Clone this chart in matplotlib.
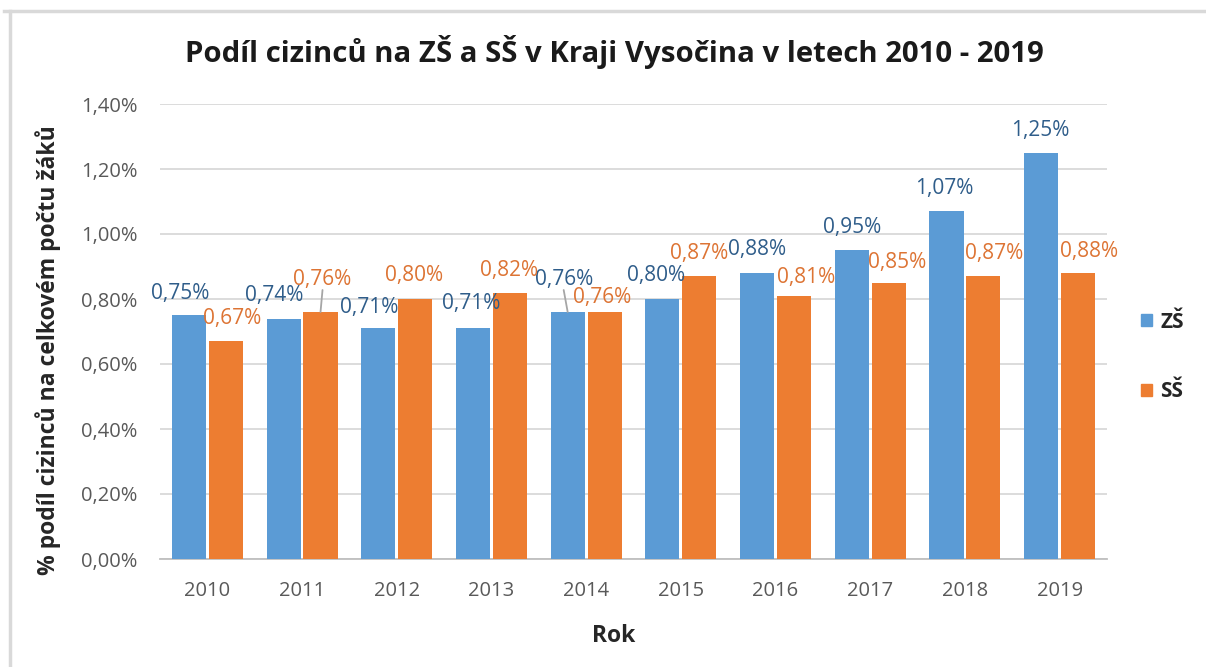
import numpy as np
import matplotlib.pyplot as plt
from matplotlib.lines import Line2D
from matplotlib.patches import Patch

# --- data -------------------------------------------------------------------
years = ['2010', '2011', '2012', '2013', '2014', '2015', '2016', '2017', '2018', '2019']
zs = [0.75, 0.74, 0.71, 0.71, 0.76, 0.80, 0.88, 0.95, 1.07, 1.25]
ss = [0.67, 0.76, 0.80, 0.82, 0.76, 0.87, 0.81, 0.85, 0.87, 0.88]
yticks = [0.0, 0.2, 0.4, 0.6, 0.8, 1.0, 1.2, 1.4]

# hand-placed data label offsets (pixels from bar top centre), like in Excel
zs_off = [(-9, 22), (-9, 23), (-9, 21), (-2, 25), (-4, 32),
          (-6, 24), (0, 23), (0, 23), (-2, 23), (-1, 22)]
ss_off = [(6, 23), (2, 32), (-1, 24), (-1, 22), (-2, 14),
          (0, 23), (12, 18), (8, 20), (11, 23), (11, 22)]
zs_leader = [4]
ss_leader = [1]

BLUE = '#5B9BD5'
ORANGE = '#ED7D31'
BLUE_TXT = '#2F5D8A'
ORANGE_TXT = '#DD7434'
GRID = '#D9D9D9'
TICK = '#595959'

plt.rcParams['font.family'] = ['Open Sans', 'DejaVu Sans']


def pct(v):
    return f"{v:.2f}".replace('.', ',') + '%'


fig = plt.figure(figsize=(12.06, 6.67), dpi=100)
ax = fig.add_axes([160 / 1206, 108 / 667, 947 / 1206, 455 / 667])

x = np.arange(len(years))
w = 0.36
off = 0.195
ax.bar(x - off, zs, w, color=BLUE, zorder=3)
ax.bar(x + off, ss, w, color=ORANGE, zorder=3)

ax.set_xlim(-0.5, len(years) - 0.5)
ax.set_ylim(0, 1.4)
ax.set_yticks(yticks)
ax.set_yticklabels([pct(v) for v in yticks])
ax.set_xticks(x)
ax.set_xticklabels(years)
ax.tick_params(axis='both', length=0, labelsize=14.5, colors=TICK)
ax.tick_params(axis='y', pad=16)
ax.tick_params(axis='x', pad=16)

ax.grid(axis='y', color=GRID, linewidth=1.3, zorder=0)
for s in ['top', 'right', 'left']:
    ax.spines[s].set_visible(False)
ax.spines['bottom'].set_color('#BFBFBF')
ax.spines['bottom'].set_linewidth(1.3)


def labels(vals, offs, leaders, sign, color):
    for i, v in enumerate(vals):
        dx, dy = offs[i]
        bx = x[i] + sign * off
        ax.annotate(pct(v), xy=(bx, v), xytext=(dx, dy), textcoords='offset pixels',
                    ha='center', va='center', fontsize=15, color=color, zorder=5)
        if i in leaders:
            ax.annotate('', xy=(bx, v), xytext=(dx, dy - 10), textcoords='offset pixels',
                        arrowprops=dict(arrowstyle='-', color='#A6A6A6', lw=1.3,
                                        shrinkA=0, shrinkB=0))


labels(zs, zs_off, zs_leader, -1, BLUE_TXT)
labels(ss, ss_off, ss_leader, 1, ORANGE_TXT)

fig.text(614 / 1206, 1 - 52 / 667, 'Podíl cizinců na ZŠ a SŠ v Kraji Vysočina v letech 2010 - 2019',
         ha='center', va='center', fontsize=21.2, fontweight='bold', color='#1a1a1a')
fig.text(614 / 1206, 1 - 636 / 667, 'Rok', ha='center', va='center',
         fontsize=16.5, fontweight='bold', color='#262626')
fig.text(48 / 1206, 1 - 350 / 667, '% podíl cizinců na celkovém počtu žáků', rotation=90,
         ha='center', va='center', fontsize=16.5, fontweight='bold', color='#262626')

handles = [Patch(color=BLUE), Patch(color=ORANGE)]
leg = fig.legend(handles, ['ZŠ', 'SŠ'], loc='center left', bbox_to_anchor=(1122 / 1206, 1 - 357 / 667),
                 frameon=False, fontsize=15, handlelength=0.55, handleheight=0.55,
                 handletextpad=0.4, labelspacing=2.35)
for t in leg.get_texts():
    t.set_fontweight('bold')
    t.set_color('#262626')

# outer chart frame (only top and left edges visible)
fig.add_artist(Line2D([4 / 1206, 1], [1 - 11 / 667, 1 - 11 / 667], color='#D9D9D9', lw=2.5))
fig.add_artist(Line2D([10 / 1206, 10 / 1206], [0, 1 - 11 / 667], color='#D9D9D9', lw=2.5))

fig.savefig('out.png', dpi=100, facecolor='white')
